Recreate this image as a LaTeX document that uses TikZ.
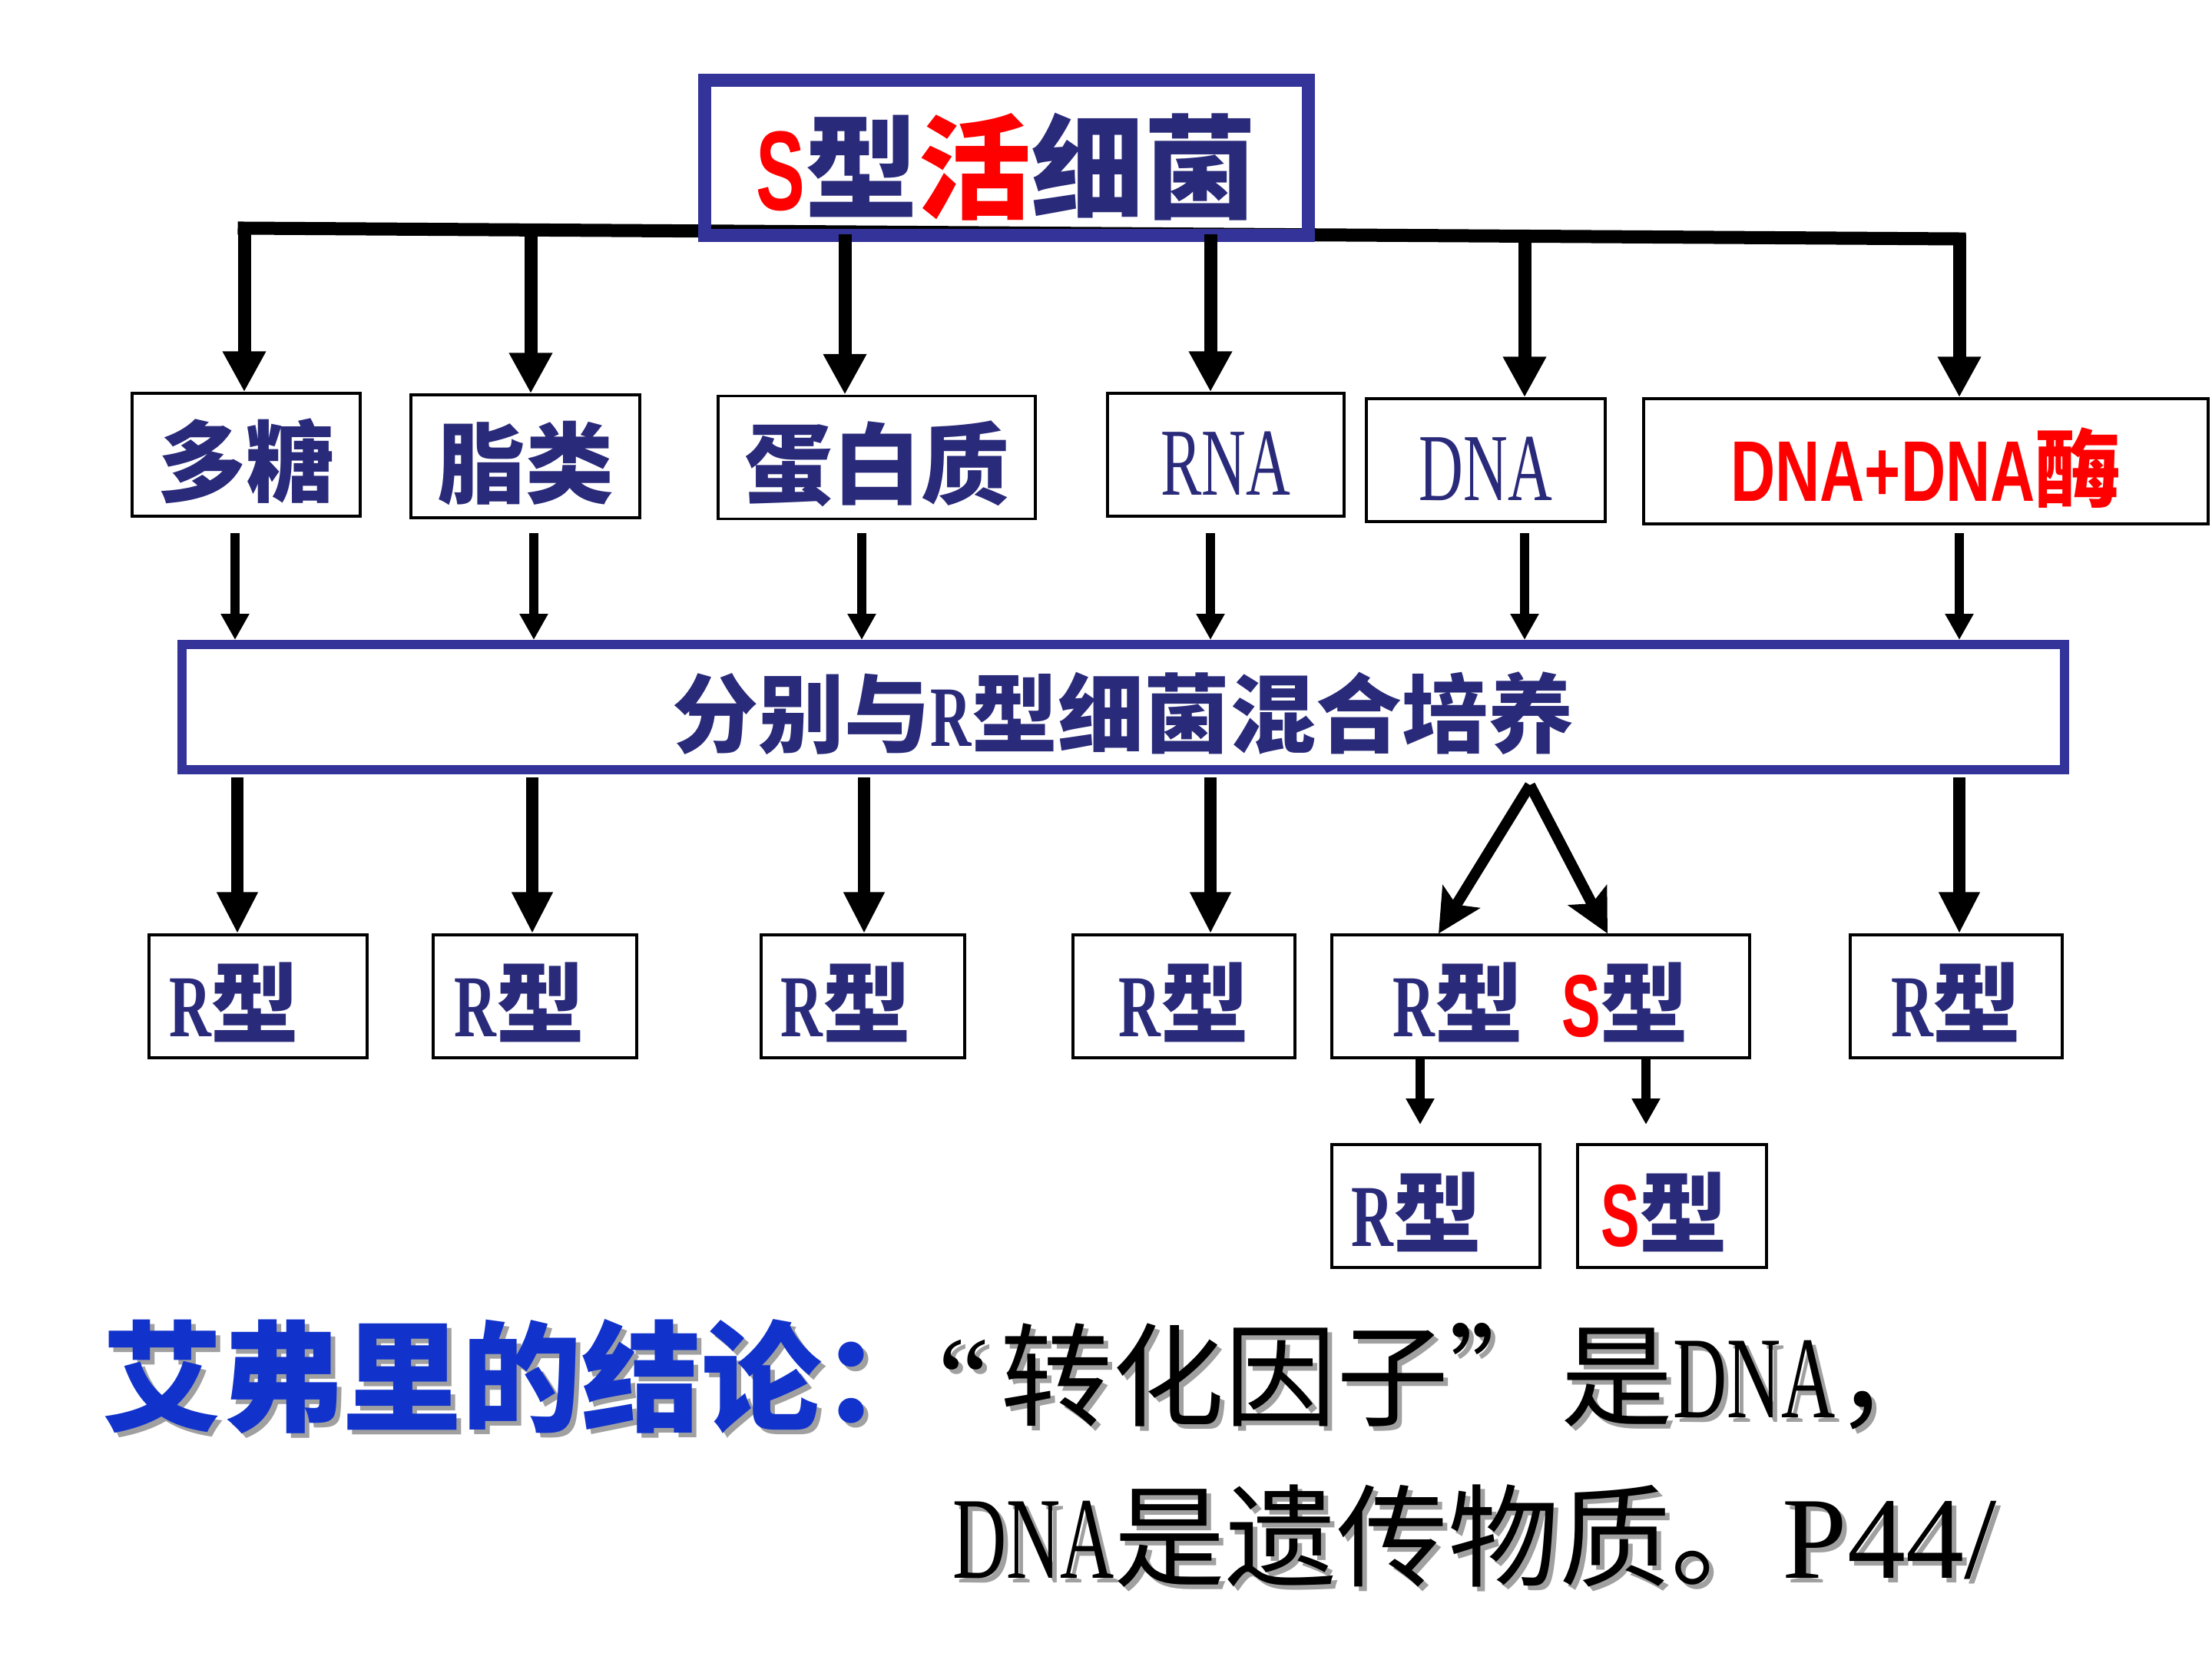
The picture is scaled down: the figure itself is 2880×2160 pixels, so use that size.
\documentclass[tikz,border=0pt]{standalone}
\usepackage{fontspec}
\setmainfont{Liberation Serif}
\newfontfamily\hei{Noto Sans CJK SC}
\newfontfamily\arl{Liberation Sans}
\usetikzlibrary{arrows.meta}

\definecolor{navy}{RGB}{42,42,122}
\definecolor{boxblue}{RGB}{51,51,153}
\definecolor{conblue}{RGB}{17,51,204}
\definecolor{shade}{RGB}{160,160,160}

% narrow serif and narrow bold sans
\newcommand\nar[2][0.66]{\scalebox{#1}[1]{\rmfamily #2}}
\newcommand\bsans[2][0.66]{\scalebox{#1}[1]{\arl\bfseries #2}}
% text with a grey drop shadow
\newcommand\shadowed[2]{\makebox[0pt][l]{\hspace{6pt}\raisebox{-6pt}{\textcolor{shade}{#2}}}\textcolor{#1}{#2}}

\tikzset{
  partbox/.style={draw, line width=3.5pt, minimum height=160pt, inner sep=0pt, text=navy,
    text height=118pt, text depth=14pt,
    font=\hei\bfseries\fontsize{115pt}{120pt}\selectfont},
  mainbox/.style={draw=boxblue, inner sep=0pt, text=navy},
  trunk/.style={line width=17pt, line cap=rect},
  bigarr/.style={line width=17pt, -{Triangle[length=53pt,width=53pt]}},
  thinarr/.style={line width=12pt, -{Triangle[length=34pt,width=35pt]}},
  midarr/.style={line width=16pt, -{Triangle[length=54pt,width=50pt]}},
  forkarr/.style={line width=14pt, -{Stealth[length=56pt,width=56pt,inset=12pt]}},
  concl/.style={anchor=west, inner sep=0pt}
}

\begin{document}
\begin{tikzpicture}[x=1pt, y=-1pt]
\useasboundingbox (0,0) rectangle (2880,2160);

% S-type source and the bar under it
\draw[trunk] (318,297) coordinate (bl) -- (2551,311) coordinate (br);
\node[mainbox, line width=17pt, minimum width=786pt, minimum height=202pt,
      text height=150pt, text depth=15pt,
      font=\hei\bfseries\fontsize{147pt}{150pt}\selectfont] (src) at (1310.5,205.5)
  {\textcolor{red}{\bsans[0.65]{S}}型\textcolor{red}{活}细菌};

% extracted parts
\node[partbox, minimum width=297pt] (n1) at (320.5,592) {多糖};
\node[partbox, minimum width=298pt] (n2) at (684,594) {脂类};
\node[partbox, minimum width=413pt] (n3) at (1141.5,595.5) {蛋白质};
\node[partbox, minimum width=308pt, font=\fontsize{125pt}{130pt}\selectfont] (n4) at (1596,592) {\nar[0.64]{RNA}};
\node[partbox, minimum width=311pt, font=\fontsize{125pt}{130pt}\selectfont] (n5) at (1934.5,599) {\nar[0.64]{DNA}};
\node[partbox, minimum width=735pt, minimum height=163pt, text=red,
      font=\hei\bfseries\fontsize{112pt}{118pt}\selectfont] (n6) at (2507.5,600.5) {\bsans[0.72]{DNA+DNA}酶};

% culture step
\node[mainbox, line width=12pt, minimum width=2451pt, minimum height=163pt,
      text height=116pt, text depth=14pt,
      font=\hei\bfseries\fontsize{112pt}{118pt}\selectfont] (mix) at (1462.5,920.5)
  {分别与\nar{R}型细菌混合培养};

% results
\node[partbox, minimum width=284pt] (r1) at (336,1297) {\nar{R}型\hspace*{62pt}};
\node[partbox, minimum width=265pt] (r2) at (696.5,1297) {\nar{R}型\hspace*{40pt}};
\node[partbox, minimum width=265pt] (r3) at (1123.5,1297) {\nar{R}型\hspace*{44pt}};
\node[partbox, minimum width=289pt] (r4) at (1541.5,1297) {\nar{R}型};
\node[partbox, minimum width=544pt] (r5) at (2006,1297) {\nar{R}型\hspace{50pt}\textcolor{red}{\bsans{S}}型};
\node[partbox, minimum width=276pt] (r6) at (2547,1297) {\nar{R}型};

% offspring
\node[partbox, minimum width=271pt] (q1) at (1869.5,1570) {\nar{R}型\hspace*{50pt}};
\node[partbox, minimum width=246pt] (q2) at (2177,1570) {\textcolor{red}{\bsans{S}}型\hspace*{20pt}};

% arrows
\foreach \x/\n [count=\i] in {318/n1,691/n2,1100/n3,1576/n4,1985/n5,2551/n6} {
  \coordinate (t\i) at (\x,305);
  \draw[bigarr] (t\i) -- (t\i |- \n.north);
}
\foreach \x [count=\i] in {306,695,1122,1576,1985,2551} {
  \coordinate (u\i) at (\x,694);
  \draw[thinarr] (u\i) -- (u\i |- mix.north);
}
\foreach \x/\n [count=\i] in {309/r1,693/r2,1125/r3,1576/r4,2551/r6} {
  \coordinate (w\i) at (\x,1012);
  \draw[midarr] (w\i) -- (w\i |- \n.north);
}
\coordinate (fk) at (1992,1022);
\coordinate (fl) at (1873,0);
\coordinate (fr) at (2093,0);
\draw[forkarr] (fk) -- (fl |- r5.north);
\draw[forkarr] (fk) -- (fr |- r5.north);
\foreach \x [count=\i] in {1849,2143} {
  \coordinate (d\i) at (\x,1464);
  \draw[thinarr] (d\i |- r5.south) -- (d\i);
}

% conclusion
\node[concl, font=\hei\bfseries\fontsize{156pt}{160pt}\selectfont] (con) at (133,1795)
  {\shadowed{conblue}{艾弗里的结论：}};
\node[concl, font=\hei\fontsize{146pt}{150pt}\selectfont] (ln1) at (1221,1795)
  {\shadowed{black}{{\fontsize{152pt}{156pt}\selectfont\rmfamily “}\hspace{14pt}转化因子”是{\fontsize{152pt}{156pt}\selectfont\nar[0.64]{DNA}}，}};
\node[concl, font=\hei\fontsize{145pt}{150pt}\selectfont] (ln2) at (1240,2002)
  {\shadowed{black}{{\fontsize{152pt}{156pt}\selectfont\nar[0.64]{DNA}}是遗传物质。{\fontsize{152pt}{156pt}\selectfont\rmfamily P44/}}};
\end{tikzpicture}
\end{document}
